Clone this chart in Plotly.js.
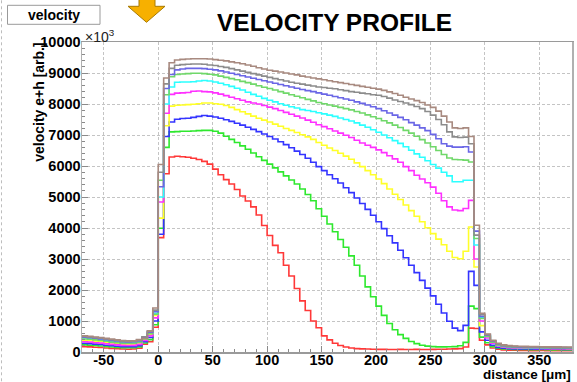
<!DOCTYPE html>
<html>
<head>
<meta charset="utf-8">
<script src="https://cdn.plot.ly/plotly-3.0.1.min.js"></script>
<style>
html,body{margin:0;padding:0;background:#fff;}
#chart{width:577px;height:382px;}
</style>
</head>
<body>
<div id="chart"></div>
<script>
// ---- data: histogram bins of 5 um, from -70 um to 380 um (90 bins) ----
const binStart = -70;
const binWidth = 5;
const nBins = 90;

const seriesNames = ["red","green","blue","yellow","magenta","cyan","ltgreen","slate","gray","brown"];

const redVals = [170,165,155,145,130,115,105,95,90,95,120,250,330,800,
 3690,5750,6290,6315,6300,6280,6250,6210,6150,6060,5900,5720,5560,5420,5240,5030,4870,4680,4420,4080,
 3760,3440,3200,2800,2450,2050,1650,1340,1000,780,520,390,280,210,160,130,110,100,95,90,
 85,85,80,80,85,80,80,85,80,80,85,90,90,95,100,110,160,770,
 760,380,
 230,130,90,70,60,55,50,50,45,45,50,45,45,40,45,40];

const greenVals = [230,220,210,195,180,160,150,140,135,140,165,290,400,880,
 3990,6600,7100,7110,7120,7120,7130,7140,7150,7150,7120,7060,6960,6860,6760,6650,6540,6420,6300,6180,
 6060,5940,5810,5680,5550,5420,5260,5080,4880,4620,4380,4130,3880,3630,3380,3100,2800,2450,2100,1780,
 1480,1180,920,720,560,440,340,270,220,190,175,165,165,170,175,200,310,1480,
 1400,480,
 300,170,120,100,90,85,80,80,75,75,80,75,70,75,70,70];

const blueVals = [280,270,255,240,220,200,185,175,170,175,200,330,470,1000,
 3800,6950,7420,7510,7530,7540,7570,7600,7630,7610,7580,7540,7490,7440,7380,7320,7250,7180,7110,7030,
 6950,6870,6780,6690,6590,6480,6370,6250,6120,5980,5850,5720,5590,5450,5300,5140,4970,4790,4600,4410,
 4200,3980,3750,3520,3280,3040,2800,2560,2310,2060,1810,1540,1260,990,770,690,860,2600,
 2150,650,
 380,220,150,120,110,100,100,95,95,90,95,90,90,90,85,85];

const yellowVals = [380,370,350,330,310,290,270,255,250,255,285,400,560,1180,
 4320,7300,7930,7960,7970,7980,7990,8010,8030,8030,8010,7990,7950,7890,7820,7750,7680,7610,7540,7480,
 7420,7350,7280,7210,7150,7080,7010,6940,6860,6760,6670,6580,6500,6410,6320,6220,6100,5980,5850,5720,
 5580,5430,5260,5090,4920,4740,4560,4380,4200,4010,3820,3640,3460,3250,3050,3010,3250,4030,
 2740,850,
 500,300,210,170,150,140,135,130,125,125,120,120,115,115,115,110];

const magentaVals = [330,320,300,285,265,245,230,215,210,215,245,370,520,1100,
 4840,7700,8310,8350,8360,8370,8410,8420,8400,8390,8360,8320,8270,8220,8170,8120,8070,8030,8000,7950,
 7900,7850,7790,7730,7670,7610,7550,7480,7410,7330,7270,7200,7130,7060,6990,6920,6830,6740,6670,6600,
 6520,6430,6330,6230,6120,5980,5850,5700,5580,5460,5320,5120,4880,4680,4580,4560,4630,4890,
 3000,1000,
 450,280,200,160,140,130,125,120,120,115,115,110,110,110,105,105];

const cyanVals = [450,440,420,400,375,350,330,315,305,310,340,450,610,1250,
 5000,8000,8550,8700,8710,8710,8720,8740,8760,8740,8710,8670,8620,8570,8510,8450,8380,8310,8250,8180,
 8120,8070,8010,7960,7910,7870,7820,7790,7760,7720,7680,7640,7600,7550,7500,7450,7390,7320,7250,7170,
 7090,7000,6910,6820,6730,6620,6510,6390,6280,6170,6050,5930,5800,5680,5490,5490,5540,5540,
 3450,1120,
 520,330,230,190,170,160,150,145,140,140,135,135,130,130,130,125];

const ltgreenVals = [420,410,390,370,345,320,300,285,280,285,315,420,590,1220,
 5540,8300,8880,8950,8970,8980,8990,8990,8980,8960,8940,8900,8860,8820,8780,8730,8690,8640,8590,8540,
 8500,8450,8400,8350,8300,8250,8200,8150,8100,8050,8010,7970,7930,7890,7850,7810,7760,7710,7650,7590,
 7530,7460,7390,7320,7240,7150,7060,6960,6850,6740,6620,6500,6370,6260,6210,6200,6190,6130,
 3660,1080,
 500,320,220,180,160,150,145,140,140,135,135,130,130,125,125,125];

const slateVals = [480,465,445,425,400,375,355,335,325,330,360,470,640,1300,
 5330,8500,8950,9100,9130,9150,9150,9150,9140,9120,9100,9070,9030,8990,8950,8910,8870,8830,8790,8750,
 8710,8670,8630,8590,8550,8510,8470,8430,8400,8360,8320,8280,8240,8200,8160,8120,8070,8020,7970,7910,
 7850,7780,7710,7640,7570,7490,7400,7320,7230,7140,7020,6880,6720,6640,6610,6610,6620,6450,
 3900,1150,
 540,350,250,200,180,170,160,155,150,150,145,145,140,140,140,135];

const grayVals = [500,485,465,445,420,395,370,350,340,345,375,490,660,1350,
 5800,8650,9150,9250,9270,9280,9290,9290,9280,9260,9240,9210,9180,9140,9100,9060,9020,8980,8940,8900,
 8860,8820,8780,8740,8700,8670,8640,8610,8580,8550,8530,8510,8490,8460,8430,8400,8380,8350,8330,8300,
 8280,8240,8190,8130,8080,8030,7980,7920,7850,7760,7640,7500,7330,7100,6940,6920,6930,6720,
 3770,1200,
 560,360,260,210,190,180,170,165,160,160,155,155,150,150,145,145];

const brownVals = [520,505,485,465,440,415,390,370,360,365,400,440,680,1420,
 6050,8840,9330,9420,9440,9450,9460,9460,9460,9450,9430,9410,9390,9360,9330,9300,9260,9220,9170,9130,
 9090,9060,9030,9000,8970,8940,8900,8870,8840,8810,8780,8750,8720,8690,8660,8630,8600,8570,8540,8510,
 8480,8440,8390,8340,8280,8220,8160,8110,8050,7970,7890,7770,7610,7420,7230,7210,7230,6950,
 4090,1250,
 580,380,280,230,210,195,185,180,175,175,170,170,165,165,160,160];

const allValues = [redVals,greenVals,blueVals,yellowVals,magentaVals,cyanVals,ltgreenVals,slateVals,grayVals,brownVals];

const xTickVals = [-50,0,50,100,150,200,250,300,350];
const xTickText = ["-50","0","50","100","150","200","250","300","350"];
const yTickVals = [0,1000,2000,3000,4000,5000,6000,7000,8000,9000,10000];
const yTickText = ["0","1000","2000","3000","4000","5000","6000","7000","8000","9000","10000"];

// ---- styling ----
const colors = {
  red:"#ff3838", green:"#2ee82e", blue:"#3434ff", yellow:"#ffff2a", magenta:"#ff30ff",
  cyan:"#2cffff", ltgreen:"#70d86a", slate:"#6a66e6", gray:"#8c8c8c", brown:"#a88a80"
};

const edges = [];
for (let i = 0; i <= nBins; i++) edges.push(binStart + i * binWidth);

const traces = seriesNames.map((name, idx) => {
  const v = allValues[idx];
  return {
    type: "scatter", mode: "lines", name: name,
    x: edges,
    y: v.concat([v[v.length - 1]]),
    line: {shape: "hv", color: colors[name], width: 1.6},
    hoverinfo: "skip"
  };
});

// pixel helpers for decorations only
const L = 82, R = 572, T = 41.7, B = 351.7;
const px = x => (x - L) / (R - L);
const py = y => (B - y) / (B - T);

const FONT = "Liberation Sans, Arial, sans-serif";

const arrowPath = "M " + px(139) + " " + py(-2) +
  " L " + px(155) + " " + py(-2) +
  " L " + px(155) + " " + py(6) +
  " L " + px(165) + " " + py(6) +
  " L " + px(146.5) + " " + py(22) +
  " L " + px(128) + " " + py(6) +
  " L " + px(139) + " " + py(6) + " Z";

const layout = {
  width: 577, height: 382,
  margin: {l: L, r: 577 - R, t: T, b: 382 - B, pad: 0},
  paper_bgcolor: "#ffffff", plot_bgcolor: "#ffffff",
  showlegend: false,
  title: {text: "<b>VELOCITY PROFILE</b>", x: 334.5 / 577, xanchor: "center", xref: "container",
          y: 1 - 22 / 382, yanchor: "middle", yref: "container",
          font: {family: FONT, size: 24.5, color: "#000"}},
  xaxis: {
    range: [binStart, binStart + nBins * binWidth],
    tickvals: xTickVals, ticktext: xTickText,
    ticks: "inside", ticklen: 6, tickcolor: "#8a8a8a", tickwidth: 1,
    minor: {ticks: "inside", ticklen: 3, dtick: 10, tick0: 0, tickcolor: "#8a8a8a", showgrid: false},
    showgrid: true, gridcolor: "#c4c4c4", griddash: "3px,2px", gridwidth: 1,
    zeroline: false, showline: true, linecolor: "#9a9a9a", linewidth: 1.5, mirror: true,
    tickfont: {family: FONT, size: 14.5, color: "#000", weight: "bold"},
    ticklabelstandoff: -6,
    fixedrange: true
  },
  yaxis: {
    range: [0, 10000],
    tickvals: yTickVals, ticktext: yTickText,
    ticks: "inside", ticklen: 6, tickcolor: "#8a8a8a", tickwidth: 1,
    minor: {ticks: "inside", ticklen: 3, dtick: 200, tick0: 0, tickcolor: "#8a8a8a", showgrid: false},
    showgrid: true, gridcolor: "#c4c4c4", griddash: "3px,2px", gridwidth: 1,
    zeroline: false, showline: true, linecolor: "#b0b0b0", linewidth: 1.5, mirror: true,
    tickfont: {family: FONT, size: 14.5, color: "#000", weight: "bold"},
    ticklabelstandoff: -3,
    fixedrange: true
  },
  shapes: [
    {type: "line", xref: "paper", yref: "paper", x0: px(1.5), x1: px(1.5), y0: py(0), y1: py(382),
     line: {color: "#bdbdbd", width: 1, dash: "3px,3px"}},
    {type: "rect", xref: "paper", yref: "paper", x0: px(7.5), x1: px(100), y0: py(24), y1: py(5),
     line: {color: "#9a9a9a", width: 1}, fillcolor: "#ffffff"},
    {type: "path", xref: "paper", yref: "paper", path: arrowPath,
     fillcolor: "#f7b000", line: {color: "#a87a00", width: 1}}
  ],
  annotations: [
    {xref: "paper", yref: "paper", x: px(53.5), y: py(14.5), xanchor: "center", yanchor: "middle",
     text: "<b>velocity</b>", showarrow: false, font: {family: FONT, size: 14, color: "#000"}},
    {xref: "paper", yref: "paper", x: px(82.5), y: py(35.5), xanchor: "left", yanchor: "middle",
     text: "×10<sup>3</sup>", showarrow: false, font: {family: FONT, size: 14, color: "#222"}},
    {xref: "paper", yref: "paper", x: px(39.5), y: py(102), xanchor: "center", yanchor: "middle",
     textangle: -90, text: "<b>velocity e+h [arb.]</b>", showarrow: false,
     font: {family: FONT, size: 14, color: "#000"}},
    {xref: "paper", yref: "paper", x: px(572), y: py(374), xanchor: "right", yanchor: "middle",
     borderpad: 0, text: "<b>distance [μm]</b>", showarrow: false,
     font: {family: FONT, size: 13.5, color: "#000"}}
  ]
};

Plotly.newPlot("chart", traces, layout, {staticPlot: true, displayModeBar: false});
</script>
</body>
</html>
